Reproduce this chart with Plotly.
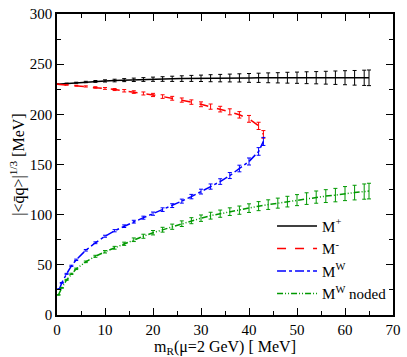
import plotly.graph_objects as go

# M+ (black)
xp = [0, 2, 4, 6, 8, 10, 12, 14, 16, 18, 20, 22, 24, 26, 28, 30, 32, 34, 36, 38, 40,
      42, 44, 46, 48, 50, 52, 54, 56, 58, 60, 62, 64, 65]
yp = [230, 230.8, 231.5, 232.2, 232.8, 233.3, 233.7, 234.1, 234.4, 234.7, 235.0, 235.2,
      235.4, 235.6, 235.8, 235.9, 236.0, 236.1, 236.2, 236.3, 236.3, 236.4, 236.4, 236.4,
      236.5, 236.5, 236.5, 236.5, 236.5, 236.5, 236.5, 236.4, 236.4, 236.4]
ep = [0, 0.3, 0.5, 0.7, 0.9, 1.1, 1.3, 1.5, 1.7, 1.9, 2.1, 2.3, 2.6, 2.8, 3.0, 3.2, 3.5,
      3.7, 3.9, 4.1, 4.4, 4.6, 4.9, 5.1, 5.4, 5.6, 5.9, 6.1, 6.4, 6.7, 7.0, 7.3, 7.6, 7.8]

# M- (red)
xm = [0, 2, 4, 6, 8, 10, 12, 14, 16, 18, 20, 22, 24, 26, 28, 30, 32, 34, 36, 38, 40, 42, 43]
ym = [230, 229.3, 228.6, 227.8, 226.8, 225.8, 224.7, 223.5, 222.2, 220.8, 219.3, 217.7,
      216.0, 214.2, 212.2, 210.0, 207.7, 205.2, 202.5, 199.5, 195.5, 188.5, 180]
em = [0, 0.3, 0.4, 0.6, 0.7, 0.9, 1.0, 1.2, 1.3, 1.5, 1.6, 1.8, 1.9, 2.1, 2.2, 2.4, 2.6,
      2.8, 3.0, 3.2, 3.4, 3.6, 3.8]

# M^W (blue)
xw = [0.5, 1, 2, 3, 4, 6, 8, 10, 12, 14, 16, 18, 20, 22, 24, 26, 28, 30, 32, 34, 36, 38,
      40, 42, 43]
yw = [26, 32, 41, 49, 55, 64.5, 72, 78.5, 84, 88.5, 93, 97, 101, 105, 109, 113.5, 118,
      123, 128, 133, 139, 146, 153, 163, 173]
ew = [0.3, 0.4, 0.5, 0.6, 0.7, 0.8, 0.9, 1.0, 1.1, 1.3, 1.4, 1.5, 1.6, 1.8, 1.9, 2.0, 2.2,
      2.4, 2.6, 2.8, 3.0, 3.3, 3.5, 3.8, 4.0]

# M^W noded (green)
xn = [0.3, 1, 2, 3, 4, 6, 8, 10, 12, 14, 16, 18, 20, 22, 24, 26, 28, 30, 32, 34, 36, 38,
      40, 42, 44, 46, 48, 50, 52, 54, 56, 58, 60, 62, 64, 65]
yn = [20, 27, 35, 41, 46, 53, 58.5, 63, 67, 71, 75, 78.5, 82, 85, 88, 91, 94, 96.5, 99,
      101, 103, 104.5, 106.5, 108.5, 110, 111.5, 113, 114.5, 116, 117.5, 118.5, 119.5,
      121, 122, 123, 123.5]
en = [0.3, 0.4, 0.5, 0.6, 0.7, 0.8, 1.0, 1.2, 1.4, 1.6, 1.8, 2.0, 2.2, 2.4, 2.6, 2.8, 3.0,
      3.2, 3.4, 3.6, 3.8, 4.1, 4.3, 4.5, 4.8, 5.0, 5.3, 5.5, 5.8, 6.1, 6.4, 6.7, 7.0, 7.3,
      7.6, 7.8]

names = ["M<sup>+</sup>", "M<sup>-</sup>", "M<sup>W</sup>", "M<sup>W</sup> noded"]
colors = ["#000000", "#ff0000", "#0000ff", "#009900"]
dashes = ["solid", "dash", "dashdot", "6px,2px,1px,2px,1px,2px"]
series = [(xp, yp, ep), (xm, ym, em), (xw, yw, ew), (xn, yn, en)]

fig = go.Figure()
for (x, y, e), nm, c, d in zip(series, names, colors, dashes):
    fig.add_trace(go.Scatter(
        x=x, y=y, mode="lines", name=nm,
        line=dict(color=c, width=1.5, dash=d),
        error_y=dict(type="data", array=e, visible=True, color=c, thickness=1, width=2),
    ))

font = "Liberation Serif, Times New Roman, serif"
axis_common = dict(
    showline=True, linecolor="black", linewidth=1.5, mirror="ticks",
    ticks="inside", ticklen=7, tickwidth=1, tickcolor="black",
    showgrid=False, zeroline=False,
    tickfont=dict(family=font, size=15, color="black"),
)
fig.update_xaxes(range=[0, 70], dtick=10, tick0=0,
                 minor=dict(ticks="inside", ticklen=4, dtick=5, tickcolor="black"),
                 title=dict(text="m<sub>R</sub>(μ=2 GeV) [ MeV]",
                            font=dict(family=font, size=16, color="black"), standoff=2),
                 **axis_common)
fig.update_yaxes(range=[0, 300], dtick=50, tick0=0,
                 minor=dict(ticks="inside", ticklen=4, dtick=25, tickcolor="black"),
                 title=dict(text="|<q\u0304q>|<sup>1/3</sup> [MeV]",
                            font=dict(family=font, size=16, color="black"), standoff=1),
                 **axis_common)
fig.update_layout(
    width=407, height=357,
    margin=dict(l=57, r=9, t=6, b=41),
    plot_bgcolor="white", paper_bgcolor="white",
    showlegend=True,
    legend=dict(x=0.64, y=0.35, xanchor="left", yanchor="top",
                bgcolor="rgba(0,0,0,0)", font=dict(family=font, size=15, color="black"),
                tracegroupgap=0, itemwidth=40),
)
fig.write_html("out.html", config={"displayModeBar": False},
               post_script="document.body.style.margin='0';")
